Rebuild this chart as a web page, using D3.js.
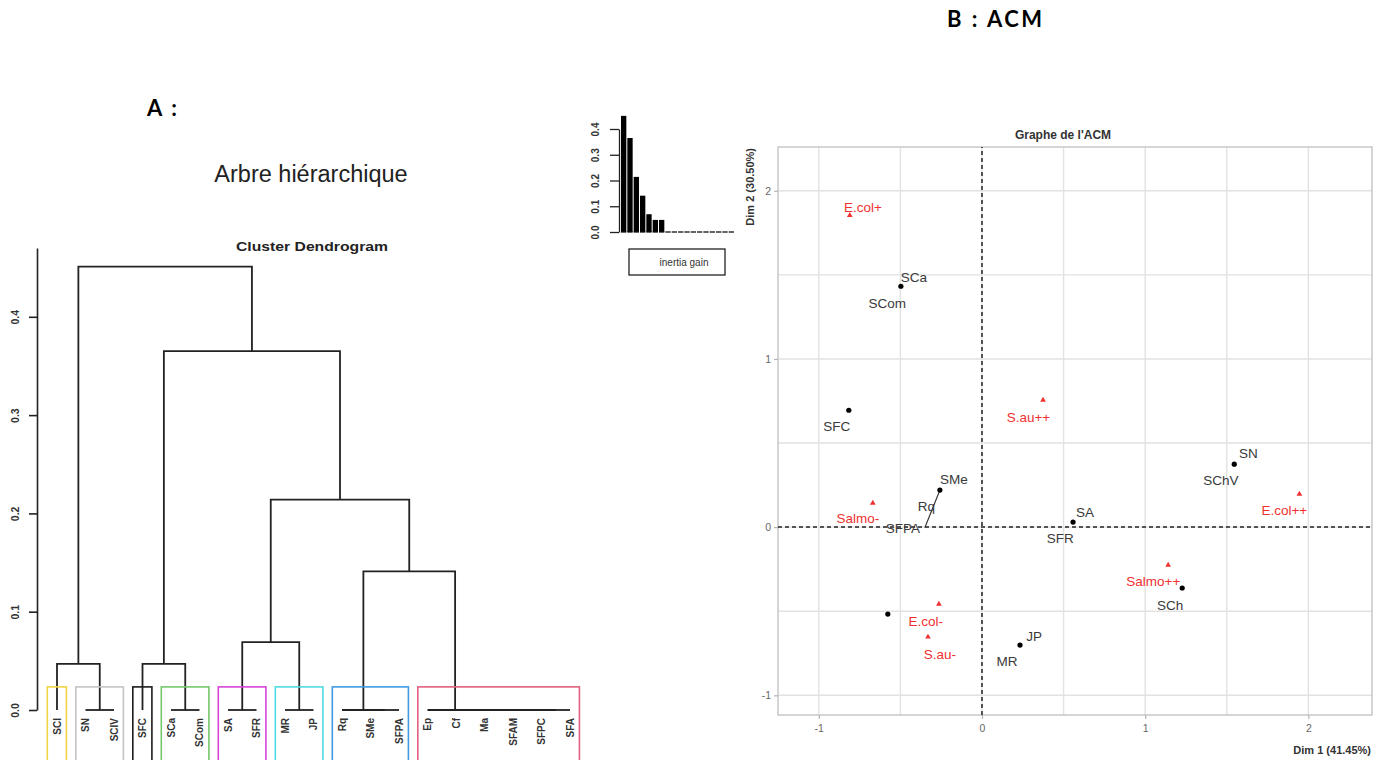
<!DOCTYPE html>
<html>
<head>
<meta charset="utf-8">
<script src="https://cdn.jsdelivr.net/npm/d3@7"></script>
<style>
  body { margin: 0; background: #fff; }
  svg { display: block; }
  text { font-family: "Liberation Sans", Arial, sans-serif; }
</style>
</head>
<body>
<svg id="chart" width="1381" height="760"></svg>
<script>
// ---- A : dendrogram data ----
const leaves = ["SCI", "SN", "SCIV", "SFC", "SCa", "SCom", "SA", "SFR", "MR", "JP",
  "Rq", "SMe", "SFPA", "Ep", "Cf", "Ma", "SFAM", "SFPC", "SFA"];

// merges in hclust order: [child a, child b, height]; merge i is named "m(i+1)"
const merges = [
  ["SN", "SCIV", 0], ["SCa", "SCom", 0], ["SA", "SFR", 0], ["MR", "JP", 0],
  ["SMe", "SFPA", 0], ["Rq", "m5", 0], ["SFPC", "SFA", 0], ["SFAM", "m7", 0],
  ["Ma", "m8", 0], ["Cf", "m9", 0], ["Ep", "m10", 0],
  ["SCI", "m1", 0.047], ["SFC", "m2", 0.047], ["m3", "m4", 0.069],
  ["m6", "m11", 0.141], ["m14", "m15", 0.214], ["m13", "m16", 0.365],
  ["m12", "m17", 0.451]
];

const clusterGroups = [["SCI"], ["SN", "SCIV"], ["SFC"], ["SCa", "SCom"], ["SA", "SFR"],
  ["MR", "JP"], ["Rq", "SMe", "SFPA"], ["Ep", "Cf", "Ma", "SFAM", "SFPC", "SFA"]];

const inertiaGain = [0.451, 0.365, 0.214, 0.141, 0.069, 0.047, 0.047,
  0, 0, 0, 0, 0, 0, 0, 0, 0, 0, 0];

const dendTicks = [0, 0.1, 0.2, 0.3, 0.4];
const inertiaTicks = [0, 0.1, 0.2, 0.3, 0.4];

// ---- B : ACM data ----
// active categories (black dots)
const catX = [-0.497, -0.816, -0.258, 1.546, 0.558, 1.227, 0.233, -0.577];
const catY = [1.432, 0.695, 0.220, 0.374, 0.030, -0.362, -0.701, -0.517];
// supplementary categories (red triangles)
const supNames = ["E.col+", "S.au++", "Salmo-", "E.col++", "Salmo++", "E.col-", "S.au-"];
const supX = [-0.810, 0.374, -0.669, 1.945, 1.141, -0.264, -0.331];
const supY = [1.854, 0.755, 0.143, 0.196, -0.226, -0.457, -0.653];
// repelled label positions (data units)
const catLabels = [
  ["SCa", -0.418, 1.484], ["SCom", -0.580, 1.331], ["SFC", -0.890, 0.600],
  ["SMe", -0.172, 0.284], ["Rq", -0.340, 0.125], ["SFPA", -0.485, -0.007],
  ["SN", 1.633, 0.441], ["SChV", 1.464, 0.279], ["SA", 0.632, 0.089],
  ["SFR", 0.479, -0.065], ["SCh", 1.153, -0.463], ["JP", 0.319, -0.648],
  ["MR", 0.153, -0.796]
];
const supLabels = [
  ["E.col+", -0.730, 1.901], ["S.au++", 0.285, 0.654], ["Salmo-", -0.760, 0.054],
  ["E.col++", 1.853, 0.101], ["Salmo++", 1.050, -0.321], ["E.col-", -0.344, -0.559],
  ["S.au-", -0.258, -0.755]
];
const acmTicks = [-1, 0, 1, 2];
const acmGrid = [-1, -0.5, 0, 0.5, 1, 1.5, 2];

const boxColors = ["#f1d443", "#c4c4c4", "#1c1c1c", "#74c86a", "#d844d6", "#4fdbe0", "#3f9be6", "#e3607e"];
const red = "#f03030";
const ink = "#222";

const svg = d3.select("#chart");

// ---- headings ----
svg.append("text")
  .attr("x", 947).attr("y", 27)
  .attr("textLength", 95).attr("lengthAdjust", "spacing")
  .style("font-family", "Lato, 'Open Sans', sans-serif")
  .style("font-weight", "bold").style("font-size", "22px")
  .text("B : ACM");

svg.append("text")
  .attr("x", 147).attr("y", 116)
  .attr("textLength", 30).attr("lengthAdjust", "spacing")
  .style("font-family", "Lato, 'Open Sans', sans-serif")
  .style("font-weight", "bold").style("font-size", "22px")
  .text("A :");

svg.append("text")
  .attr("x", 311).attr("y", 182)
  .attr("text-anchor", "middle")
  .style("font-size", "23.5px").attr("fill", "#222")
  .text("Arbre hiérarchique");

svg.append("text")
  .attr("x", 236).attr("y", 251)
  .attr("textLength", 152).attr("lengthAdjust", "spacingAndGlyphs")
  .style("font-size", "13.5px").style("font-weight", "bold").attr("fill", "#222")
  .text("Cluster Dendrogram");

// ---- dendrogram ----
const xIdx = d3.scaleLinear().domain([1, leaves.length]).range([57, 570]);
const yDend = d3.scaleLinear().domain([0, 0.47]).range([710, 248]);

const nodes = new Map(leaves.map((l, i) => [l, {x: xIdx(i + 1), h: 0}]));
const segs = [];
merges.forEach(([a, b, h], i) => {
  const A = nodes.get(a), B = nodes.get(b);
  segs.push([[A.x, A.h], [A.x, h], [B.x, h], [B.x, B.h]]);
  nodes.set("m" + (i + 1), {x: (A.x + B.x) / 2, h});
});

const dendLine = d3.line().x(d => d[0]).y(d => yDend(d[1]));

svg.append("g")
  .selectAll("path")
  .data(segs)
  .enter().append("path")
    .attr("d", dendLine)
    .attr("fill", "none")
    .attr("stroke", ink)
    .attr("stroke-width", 1.8);

// cluster rectangles, cut between the 7th and 8th largest heights
const sortedH = merges.map(d => d[2]).sort((a, b) => b - a);
const boxTop = (sortedH[clusterGroups.length - 2] + sortedH[clusterGroups.length - 1]) / 2;

svg.append("g")
  .selectAll("rect")
  .data(clusterGroups)
  .enter().append("rect")
    .attr("x", g => xIdx(leaves.indexOf(g[0]) + 1 - 0.34))
    .attr("y", yDend(boxTop))
    .attr("width", g => xIdx(leaves.indexOf(g[g.length - 1]) + 1 + 0.33) - xIdx(leaves.indexOf(g[0]) + 1 - 0.34))
    .attr("height", 120)
    .attr("fill", "none")
    .attr("stroke", (g, i) => boxColors[i])
    .attr("stroke-width", 1.6);

svg.append("g")
  .selectAll("text")
  .data(leaves)
  .enter().append("text")
    .attr("transform", (d, i) => `translate(${xIdx(i + 1)},718) rotate(-90)`)
    .attr("dy", "0.35em")
    .attr("text-anchor", "end")
    .style("font-size", "10px").style("font-weight", "bold").attr("fill", "#333")
    .text(d => d);

const dendAxis = svg.append("g")
  .attr("transform", "translate(37,0)")
  .call(d3.axisLeft(yDend).tickValues(dendTicks).tickSize(8).tickSizeOuter(0).tickFormat(d3.format(".1f")));
dendAxis.select(".domain").attr("stroke", ink).attr("stroke-width", 1.6);
dendAxis.selectAll(".tick line").attr("stroke", ink).attr("stroke-width", 1.6);
dendAxis.selectAll(".tick text")
  .attr("x", 0).attr("y", 0).attr("dy", 0)
  .attr("transform", "translate(-18,0) rotate(-90)")
  .attr("text-anchor", "middle")
  .style("font-size", "10.5px").style("font-weight", "bold").attr("fill", "#333")
  .style("font-family", "'Liberation Sans', Arial, sans-serif");

// ---- inertia gain inset ----
const xBar = d3.scaleBand().domain(d3.range(inertiaGain.length)).range([621, 734]).paddingInner(0.16);
const yBar = d3.scaleLinear().domain([0, 0.4]).range([232, 129]);

svg.append("g")
  .selectAll("rect")
  .data(inertiaGain)
  .enter().append("rect")
    .attr("x", (d, i) => xBar(i))
    .attr("y", d => yBar(d))
    .attr("width", xBar.bandwidth())
    .attr("height", d => yBar(0) - yBar(d))
    .attr("fill", "#000");

svg.append("g")
  .selectAll("line")
  .data(inertiaGain)
  .enter().append("line")
    .attr("x1", (d, i) => xBar(i))
    .attr("x2", (d, i) => xBar(i) + xBar.bandwidth())
    .attr("y1", yBar(0)).attr("y2", yBar(0))
    .attr("stroke", "#111").attr("stroke-width", 1.3);

const barAxis = svg.append("g")
  .attr("transform", "translate(619,0)")
  .call(d3.axisLeft(yBar).tickValues(inertiaTicks).tickSize(9).tickSizeOuter(0).tickFormat(d3.format(".1f")));
barAxis.select(".domain").attr("stroke", ink).attr("stroke-width", 1.3);
barAxis.selectAll(".tick line").attr("stroke", ink).attr("stroke-width", 1.3);
barAxis.selectAll(".tick text")
  .attr("x", 0).attr("y", 0).attr("dy", 0)
  .attr("transform", "translate(-20,0) rotate(-90)")
  .attr("text-anchor", "middle")
  .style("font-size", "10px").style("font-weight", "bold").attr("fill", "#333")
  .style("font-family", "'Liberation Sans', Arial, sans-serif");

svg.append("rect")
  .attr("x", 629).attr("y", 249).attr("width", 96).attr("height", 26)
  .attr("fill", "none").attr("stroke", ink).attr("stroke-width", 1.3);
svg.append("text")
  .attr("x", 684).attr("y", 266)
  .attr("text-anchor", "middle")
  .style("font-size", "10px").attr("fill", "#333")
  .text("inertia gain");

// ---- ACM factor map ----
const xAcm = d3.scaleLinear().domain([-1.25, 2.39]).range([778, 1372]);
const yAcm = d3.scaleLinear().domain([-1.117, 2.26]).range([715, 147]);

svg.append("text")
  .attr("x", 1063).attr("y", 139)
  .attr("text-anchor", "middle")
  .style("font-size", "12px").style("font-weight", "bold").attr("fill", "#333")
  .text("Graphe de l'ACM");

const grid = svg.append("g");
grid.selectAll(".gx")
  .data(acmGrid)
  .enter().append("line")
    .attr("x1", d => xAcm(d)).attr("x2", d => xAcm(d))
    .attr("y1", yAcm.range()[0]).attr("y2", yAcm.range()[1])
    .attr("stroke", "#e2e2e2").attr("stroke-width", 1.4);
grid.selectAll(".gy")
  .data(acmGrid)
  .enter().append("line")
    .attr("y1", d => yAcm(d)).attr("y2", d => yAcm(d))
    .attr("x1", xAcm.range()[0]).attr("x2", xAcm.range()[1])
    .attr("stroke", "#e2e2e2").attr("stroke-width", 1.4);

svg.append("rect")
  .attr("x", xAcm.range()[0]).attr("y", yAcm.range()[1])
  .attr("width", xAcm.range()[1] - xAcm.range()[0])
  .attr("height", yAcm.range()[0] - yAcm.range()[1])
  .attr("fill", "none").attr("stroke", "#c4c4c4").attr("stroke-width", 1.4);

// dashed origin lines
svg.append("line")
  .attr("x1", xAcm(0)).attr("x2", xAcm(0))
  .attr("y1", yAcm.range()[0]).attr("y2", yAcm.range()[1])
  .attr("stroke", "#222").attr("stroke-width", 1.5).attr("stroke-dasharray", "4,3");
svg.append("line")
  .attr("y1", yAcm(0)).attr("y2", yAcm(0))
  .attr("x1", xAcm.range()[0]).attr("x2", xAcm.range()[1])
  .attr("stroke", "#222").attr("stroke-width", 1.5).attr("stroke-dasharray", "4,3");

const fmtInt = d => d < 0 ? "-" + Math.abs(d) : String(d);
const xAxisAcm = svg.append("g")
  .attr("transform", `translate(0,${yAcm.range()[0]})`)
  .call(d3.axisBottom(xAcm).tickValues(acmTicks).tickSize(4).tickSizeOuter(0).tickFormat(fmtInt));
const yAxisAcm = svg.append("g")
  .attr("transform", `translate(${xAcm.range()[0]},0)`)
  .call(d3.axisLeft(yAcm).tickValues(acmTicks).tickSize(4).tickSizeOuter(0).tickFormat(fmtInt));
[xAxisAcm, yAxisAcm].forEach(ax => {
  ax.select(".domain").remove();
  ax.selectAll(".tick line").attr("stroke", "#b5b5b5").attr("stroke-width", 1.2);
  ax.selectAll(".tick text")
    .style("font-size", "10.5px").attr("fill", "#666")
    .style("font-family", "'Liberation Sans', Arial, sans-serif");
});
xAxisAcm.selectAll(".tick text").attr("dy", "0.95em");
yAxisAcm.selectAll(".tick text").attr("x", -7);

svg.append("text")
  .attr("x", 1371).attr("y", 754)
  .attr("text-anchor", "end")
  .style("font-size", "11px").style("font-weight", "bold").attr("fill", "#333")
  .text("Dim 1 (41.45%)");
svg.append("text")
  .attr("transform", "translate(754,148) rotate(-90)")
  .attr("text-anchor", "end")
  .style("font-size", "11px").style("font-weight", "bold").attr("fill", "#333")
  .text("Dim 2 (30.50%)");

// repel segment from the SMe/Rq/SFPA dot to the SFPA label
svg.append("line")
  .attr("x1", xAcm(catX[2])).attr("y1", yAcm(catY[2]))
  .attr("x2", xAcm(-0.350)).attr("y2", yAcm(-0.003))
  .attr("stroke", "#333").attr("stroke-width", 1.2);

svg.append("g")
  .selectAll("circle")
  .data(catX)
  .enter().append("circle")
    .attr("cx", d => xAcm(d))
    .attr("cy", (d, i) => yAcm(catY[i]))
    .attr("r", 2.6)
    .attr("fill", "#000");

svg.append("g")
  .selectAll("path")
  .data(supX)
  .enter().append("path")
    .attr("transform", (d, i) => `translate(${xAcm(d)},${yAcm(supY[i])})`)
    .attr("d", d3.symbol(d3.symbolTriangle, 14))
    .attr("fill", red);

svg.append("g")
  .selectAll("text")
  .data(catLabels)
  .enter().append("text")
    .attr("x", d => xAcm(d[1]))
    .attr("y", d => yAcm(d[2]))
    .attr("dy", "0.35em")
    .attr("text-anchor", "middle")
    .style("font-size", "13.5px").attr("fill", "#3a3a3a")
    .text(d => d[0]);

svg.append("g")
  .selectAll("text")
  .data(supLabels)
  .enter().append("text")
    .attr("x", d => xAcm(d[1]))
    .attr("y", d => yAcm(d[2]))
    .attr("dy", "0.35em")
    .attr("text-anchor", "middle")
    .style("font-size", "13.5px").attr("fill", red)
    .text(d => d[0]);
</script>
</body>
</html>
